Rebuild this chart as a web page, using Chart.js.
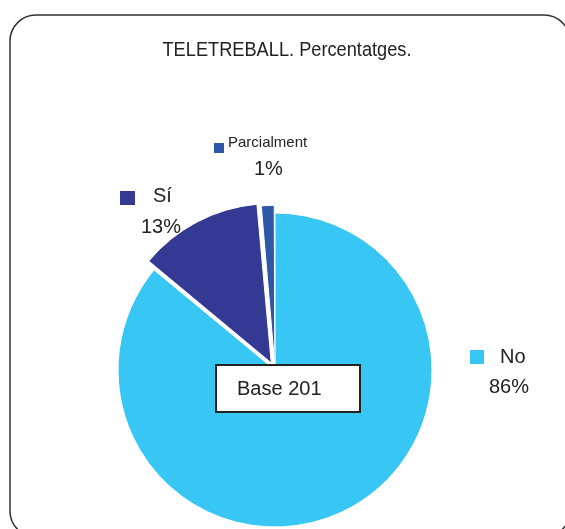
<!DOCTYPE html>
<html>
<head>
<meta charset="utf-8">
<script src="https://cdn.jsdelivr.net/npm/chart.js@4/dist/chart.umd.min.js"></script>
<style>
html,body{margin:0;padding:0;background:#fff;}
#wrap{position:relative;width:565px;height:529px;}
</style>
</head>
<body>
<div id="wrap"><canvas id="c" width="565" height="529"></canvas></div>
<script>
const title = "TELETREBALL. Percentatges.";
const categories = ["No", "Sí", "Parcialment"];
const sliceValues = [86.0, 12.6, 1.4];
const percentLabels = ["86%", "13%", "1%"];
const baseLabel = "Base 201";
const colors = ["#38C7F4", "#343994", "#2E58A7"];

const FONT = '"Liberation Sans", Arial, sans-serif';

const overlay = {
  id: 'overlay',
  beforeDraw(chart) {
    const ctx = chart.ctx;
    ctx.save();
    ctx.fillStyle = '#fff';
    ctx.fillRect(0, 0, chart.width, chart.height);
    const x = 10, y = 15, w = 560, h = 522, r = 26;
    ctx.beginPath();
    ctx.moveTo(x + r, y);
    ctx.lineTo(x + w - r, y);
    ctx.arcTo(x + w, y, x + w, y + r, r);
    ctx.lineTo(x + w, y + h - r);
    ctx.arcTo(x + w, y + h, x + w - r, y + h, r);
    ctx.lineTo(x + r, y + h);
    ctx.arcTo(x, y + h, x, y + h - r, r);
    ctx.lineTo(x, y + r);
    ctx.arcTo(x, y, x + r, y, r);
    ctx.closePath();
    ctx.lineWidth = 1.5;
    ctx.strokeStyle = '#333';
    ctx.stroke();
    ctx.fillStyle = '#222';
    ctx.font = '20px ' + FONT;
    ctx.textAlign = 'center';
    ctx.textBaseline = 'alphabetic';
    ctx.fillText(title, 287, 56, 249);
    ctx.restore();
  },
  afterDraw(chart) {
    const ctx = chart.ctx;
    ctx.save();
    ctx.textBaseline = 'alphabetic';
    ctx.textAlign = 'left';
    // No label
    ctx.fillStyle = colors[0];
    ctx.fillRect(470, 350, 14, 14);
    ctx.fillStyle = '#222';
    ctx.font = '20px ' + FONT;
    ctx.fillText(categories[0], 500, 363);
    ctx.fillText(percentLabels[0], 489, 393);
    // Sí label
    ctx.fillStyle = colors[1];
    ctx.fillRect(120, 191, 15, 14);
    ctx.fillStyle = '#222';
    ctx.fillText(categories[1], 153, 202);
    ctx.fillText(percentLabels[1], 141, 233);
    // Parcialment label
    ctx.fillStyle = colors[2];
    ctx.fillRect(214, 143, 10, 10);
    ctx.fillStyle = '#222';
    ctx.font = '15px ' + FONT;
    ctx.fillText(categories[2], 228, 147, 80);
    ctx.font = '20px ' + FONT;
    ctx.fillText(percentLabels[2], 254, 175);
    // Base box
    ctx.fillStyle = '#fff';
    ctx.fillRect(216, 365, 144, 47);
    ctx.lineWidth = 2;
    ctx.strokeStyle = '#222';
    ctx.strokeRect(216, 365, 144, 47);
    ctx.fillStyle = '#222';
    ctx.fillText(baseLabel, 237, 395);
    ctx.restore();
  }
};

new Chart(document.getElementById('c'), {
  type: 'pie',
  data: {
    labels: categories,
    datasets: [{
      data: sliceValues,
      backgroundColor: colors,
      borderColor: '#ffffff',
      borderWidth: 1,
      offset: [0, 32, 16]
    }]
  },
  options: {
    responsive: false,
    animation: false,
    radius: 157,
    layout: { padding: { left: 0, right: 15, top: 211, bottom: 0 } },
    plugins: { legend: { display: false }, tooltip: { enabled: false }, title: { display: false } },
    events: []
  },
  plugins: [overlay]
});
</script>
</body>
</html>
